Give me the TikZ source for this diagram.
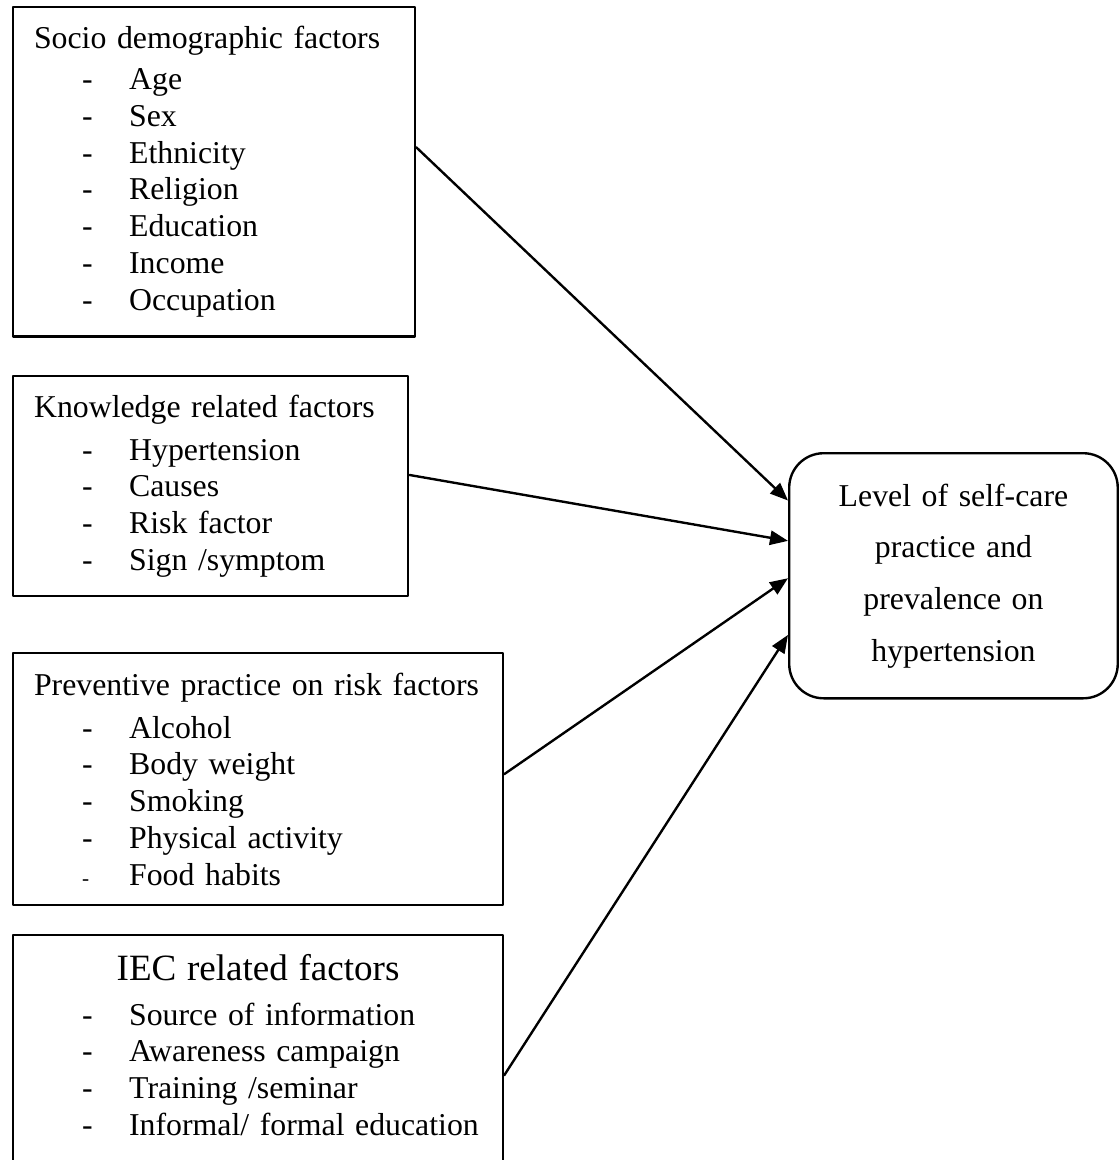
\documentclass[tikz,border=0pt]{standalone}
\usepackage{fontspec}
\setmainfont{Liberation Serif}
\usetikzlibrary{arrows.meta,calc}

% one line of a factor list: dash, then the item
\newcommand{\itm}[1]{\hspace*{18.1pt}\makebox[17.8pt][l]{-}#1}
\newcommand{\smallitm}[1]{\hspace*{18.1pt}\makebox[17.8pt][l]{\fontsize{8}{8}\selectfont -}#1}

\tikzset{
  factor/.style={draw,line width=0.9pt,anchor=north west,align=left,inner xsep=7.9pt,inner ysep=0pt,font=\fontsize{12}{13.9}\selectfont},
  outcome/.style={draw,line width=0.9pt,rounded corners=13pt,anchor=north west,align=center,text width=110pt,font=\fontsize{12}{19.5}\selectfont}
}

\begin{document}
\begin{tikzpicture}[line cap=round,line join=round,>={Triangle[length=6.8pt,width=5.4pt]},x=1pt,y=1pt]
	\useasboundingbox (0,0) rectangle (422.3,-437.8);
	\node[factor,text width=135.9pt,minimum width=151.7pt,minimum height=124.2pt] (socio) at (4.5,-2.3) {Socio demographic factors\\[1.4pt]
		\itm{Age}\\ \itm{Sex}\\ \itm{Ethnicity}\\ \itm{Religion}\\ \itm{Education}\\ \itm{Income}\\ \itm{Occupation}};
	\node[factor,text width=133.3pt,minimum width=149.1pt,minimum height=83pt] (know) at (4.5,-141.5) {Knowledge related factors\\[2.3pt]
		\itm{Hypertension}\\ \itm{Causes}\\ \itm{Risk factor}\\ \itm{Sign /symptom}};
	\node[factor,text width=169.1pt,minimum width=184.9pt,minimum height=95.1pt] (prev) at (4.5,-246.1) {Preventive practice on risk factors\\[2.3pt]
		\itm{Alcohol}\\ \itm{Body weight}\\ \itm{Smoking}\\ \itm{Physical activity}\\ \smallitm{Food habits}};
	\node[factor,text width=169.1pt,minimum width=184.9pt,minimum height=96.6pt] (iec) at (4.5,-352.5) {\makebox[\linewidth]{\fontsize{14}{16}\selectfont IEC related factors}\\[3.1pt]
		\itm{Source of information}\\ \itm{Awareness campaign}\\ \itm{Training /seminar}\\ \itm{Informal/ formal education}\\ \mbox{}};
	\node[outcome,minimum width=124pt,minimum height=92.5pt] (level) at (297.4,-170.6) {Level of self-care\\ practice and\\ prevalence on\\ hypertension};
	% arrows into the outcome box
	\draw [->,line width=0.9pt] ($(socio.north east)!.426!(socio.south east)$) -- ($(level.north west)!.196!(level.south west)$);
	\draw [->,line width=0.9pt] ($(know.north east)!.45!(know.south east)$) -- ($(level.north west)!.359!(level.south west)$);
	\draw [->,line width=0.9pt] ($(prev.north east)!.48!(prev.south east)$) -- ($(level.north west)!.51!(level.south west)$);
	\draw [->,line width=0.9pt] ($(iec.north east)!.547!(iec.south east)$) -- ($(level.north west)!.739!(level.south west)$);
\end{tikzpicture}
\end{document}
